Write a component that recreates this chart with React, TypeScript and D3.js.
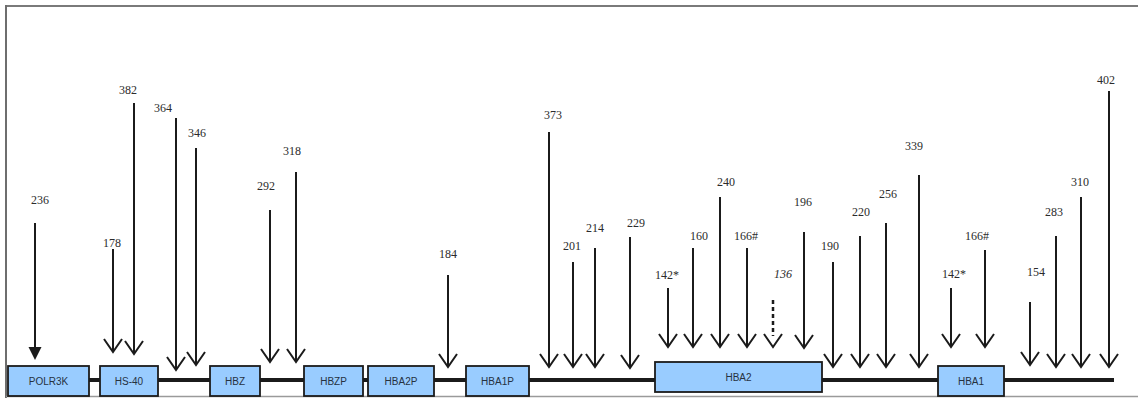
import React from "react";
import * as d3 from "d3";

// Gene blocks along the locus (track units)
const geneNames = ["POLR3K", "HS-40", "HBZ", "HBZP", "HBA2P", "HBA1P", "HBA2", "HBA1"];
const geneStart = [0, 92, 202, 296, 360, 458, 647, 930];
const geneEnd = [81, 150, 252, 355, 426, 521, 814, 996];
const geneRaised = [false, false, false, false, false, false, true, false];

// Marked sites: label, locus position, stem top level, tip level, label placement
const siteLabels = ["236", "178", "382", "364", "346", "292", "318", "184", "373", "201", "214", "229",
  "142*", "160", "240", "166#", "136", "196", "190", "220", "256", "339", "142*", "166#", "154", "283", "310", "402"];
const sitePos = [27, 105, 126, 168, 188, 262, 288, 440, 541, 565, 587, 622,
  660, 685, 712, 739, 765, 796, 825, 852, 878, 911, 943, 977, 1022, 1048, 1073, 1101];
const siteTop = [157, 131, 277, 262, 232, 170, 208, 105, 248, 118, 132, 143,
  92, 132, 183, 132, 80, 148, 118, 144, 157, 205, 92, 130, 78, 144, 183, 289];
const siteTip = [20, 28, 26, 10, 15, 18, 18, 13, 13, 13, 13, 12,
  33, 33, 33, 33, 33, 32, 13, 13, 13, 13, 33, 33, 15, 13, 13, 13];
const siteLabelPos = [32, 104, 120, 155, 189, 258, 284, 440, 545, 564, 587, 628,
  659, 691, 718, 738, 775, 795, 822, 853, 880, 906, 946, 969, 1028, 1046, 1072, 1098];
const siteLabelLevel = [180, 137, 290, 272, 247, 194, 229, 126, 265, 134, 152, 157,
  105, 144, 198, 144, 106, 178, 134, 168, 186, 234, 106, 144, 108, 168, 198, 300];
const siteKind = ["filled", "open", "open", "open", "open", "open", "open", "open", "open", "open", "open", "open",
  "open", "open", "open", "open", "dashed", "open", "open", "open", "open", "open", "open", "open", "open", "open", "open", "open"];

const W = 1138;
const H = 398;

export default function App() {
  const x = d3.scaleLinear().domain([0, 1106]).range([8, 1114]);
  const y = d3.scaleLinear().domain([0, 300]).range([380, 80]);
  const ink = "#1b1b1b";
  const head = 13;
  const half = 9;

  const sites = siteLabels.map((label, i) => ({
    label,
    px: x(sitePos[i]),
    top: y(siteTop[i]),
    tip: y(siteTip[i]),
    lx: x(siteLabelPos[i]),
    ly: y(siteLabelLevel[i]),
    kind: siteKind[i],
  }));

  return (
    <svg
      width={W}
      height={H}
      viewBox={`0 0 ${W} ${H}`}
      style={{ position: "absolute", left: 0, top: 0, background: "#fff" }}
    >
      {/* frame */}
      <line x1={6} y1={6} x2={W} y2={6} stroke="#7a7a7a" strokeWidth={2} />
      <line x1={6} y1={5} x2={6} y2={H} stroke="#6e6e6e" strokeWidth={2} />
      <line x1={6} y1={396.5} x2={W} y2={396.5} stroke="#9a9a9a" strokeWidth={1.5} />

      {/* backbone */}
      <line x1={x(40)} y1={y(0)} x2={x(1106)} y2={y(0)} stroke={ink} strokeWidth={4} />

      {/* genes */}
      {geneNames.map((name, i) => {
        const x0 = x(geneStart[i]);
        const x1 = x(geneEnd[i]);
        const top = geneRaised[i] ? y(18) : y(14);
        const bottom = geneRaised[i] ? y(-12) : y(-16);
        return (
          <g key={name}>
            <rect x={x0} y={top} width={x1 - x0} height={bottom - top} fill="#99ccff" stroke={ink} strokeWidth={1.8} />
            <text
              x={(x0 + x1) / 2}
              y={(top + bottom) / 2}
              textAnchor="middle"
              dominantBaseline="central"
              fontFamily="'Liberation Sans', Arial, sans-serif"
              fontSize={10}
              fill="#26323f"
            >
              {name}
            </text>
          </g>
        );
      })}

      {/* sites */}
      {sites.map((s, i) => (
        <g key={i}>
          {s.kind === "filled" ? (
            <>
              <line x1={s.px} y1={s.top} x2={s.px} y2={s.tip - head + 1} stroke={ink} strokeWidth={2} />
              <path
                d={`M${s.px - 6.5},${s.tip - head} L${s.px + 6.5},${s.tip - head} L${s.px},${s.tip} Z`}
                fill={ink}
              />
            </>
          ) : (
            <>
              <line
                x1={s.px}
                y1={s.top}
                x2={s.px}
                y2={s.kind === "dashed" ? s.tip - 11 : s.tip}
                stroke={ink}
                strokeWidth={s.kind === "dashed" ? 2.5 : 2}
                strokeDasharray={s.kind === "dashed" ? "4,3" : undefined}
              />
              <polyline
                points={`${s.px - half},${s.tip - head} ${s.px},${s.tip} ${s.px + half},${s.tip - head}`}
                fill="none"
                stroke={ink}
                strokeWidth={2}
              />
            </>
          )}
          <text
            x={s.lx}
            y={s.ly}
            textAnchor="middle"
            dominantBaseline="central"
            fontFamily="'Liberation Serif', 'Times New Roman', serif"
            fontStyle={s.kind === "dashed" ? "italic" : "normal"}
            fontSize={12}
            fill="#2b2b2b"
          >
            {s.label}
          </text>
        </g>
      ))}
    </svg>
  );
}
